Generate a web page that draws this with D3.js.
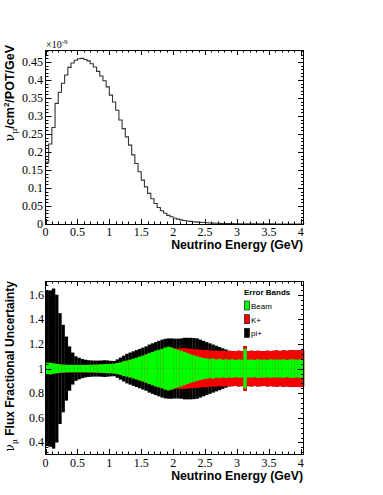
<!DOCTYPE html>
<html>
<head>
<meta charset="utf-8">
<script src="https://cdn.jsdelivr.net/npm/d3@7"></script>
<style>
  body { margin: 0; background: #fff; }
  text { fill: #000; }
</style>
</head>
<body>
<div id="chart"></div>
<script>
// flux per bin (x 1e-9 nu_mu/cm2/POT/GeV), bins of 0.05 GeV starting at 0
var binWidth = 0.05;
var flux = [0.172,0.222,0.268,0.335,0.366,0.391,0.414,0.435,0.447,0.455,
  0.459,0.46,0.457,0.453,0.445,0.436,0.424,0.411,0.398,0.381,
  0.358,0.339,0.316,0.289,0.265,0.242,0.219,0.192,0.168,0.145,
  0.122,0.103,0.085,0.07,0.057,0.046,0.037,0.03,0.024,0.02,
  0.016,0.0135,0.0115,0.0098,0.0084,0.0072,0.0062,0.0053,0.0046,0.004,
  0.0034,0.0029,0.0025,0.0021,0.0018,0.0015,0.0013,0.0011,0.001,0.0009,
  0.0008,0.0007,0.0006,0.0006,0.0005,0.0005,0.0004,0.0004,0.0003,0.0003,
  0.0003,0.0003,0.0002,0.0002,0.0002,0.0002,0.0002,0.0002,0.0001,0.0001,
  0.0001];

// fractional error half widths, cumulative
var errBeam = [0.047,0.047,0.042,0.038,0.034,0.032,0.031,0.03,0.03,0.03,
  0.03,0.03,0.03,0.031,0.031,0.032,0.033,0.034,0.036,0.038,
  0.038,0.04,0.045,0.05,0.06,0.065,0.072,0.08,0.088,0.097,
  0.105,0.115,0.125,0.135,0.145,0.152,0.16,0.17,0.177,0.17,
  0.16,0.152,0.145,0.135,0.125,0.115,0.108,0.1,0.092,0.086,
  0.082,0.078,0.082,0.074,0.078,0.072,0.076,0.072,0.076,0.07,
  0.074,0.072,0.16,0.072,0.074,0.07,0.076,0.072,0.074,0.07,
  0.076,0.072,0.074,0.072,0.076,0.07,0.074,0.076,0.072,0.074,
  0.076];
var errKaon = [0.047,0.047,0.042,0.038,0.034,0.032,0.031,0.03,0.03,0.03,
  0.03,0.03,0.03,0.031,0.031,0.032,0.033,0.034,0.036,0.038,
  0.038,0.04,0.045,0.05,0.06,0.065,0.072,0.08,0.088,0.097,
  0.105,0.115,0.125,0.135,0.145,0.152,0.16,0.17,0.177,0.172,
  0.165,0.162,0.165,0.165,0.163,0.16,0.158,0.156,0.153,0.15,
  0.152,0.148,0.145,0.147,0.143,0.145,0.142,0.145,0.143,0.14,
  0.145,0.143,0.182,0.143,0.145,0.142,0.145,0.143,0.14,0.145,
  0.143,0.145,0.147,0.143,0.148,0.145,0.147,0.15,0.147,0.15,
  0.148];
var errPion = [0.63,0.635,0.65,0.6,0.45,0.355,0.26,0.18,0.13,0.1,
  0.088,0.078,0.072,0.068,0.066,0.065,0.065,0.066,0.068,0.066,
  0.063,0.062,0.075,0.09,0.105,0.12,0.13,0.14,0.15,0.16,
  0.17,0.18,0.195,0.205,0.215,0.225,0.235,0.242,0.245,0.245,
  0.243,0.243,0.245,0.25,0.25,0.25,0.248,0.245,0.235,0.225,
  0.215,0.205,0.195,0.185,0.175,0.165,0.155,0.145,0.143,0.14,
  0.145,0.143,0.182,0.143,0.145,0.142,0.145,0.143,0.14,0.145,
  0.143,0.145,0.147,0.143,0.148,0.145,0.147,0.15,0.147,0.15,
  0.148];

var xTicks = [0, 0.5, 1, 1.5, 2, 2.5, 3, 3.5, 4];
var fluxTicks = [0, 0.05, 0.1, 0.15, 0.2, 0.25, 0.3, 0.35, 0.4, 0.45];
var ratioTicks = [0.4, 0.6, 0.8, 1, 1.2, 1.4, 1.6];
var legendLabels = ["Beam", "K+", "pi+"];
var legendColors = ["#00ff00", "#ff0000", "#000000"];

var width = 383, height = 495;
var svg = d3.select("#chart").append("svg")
    .attr("width", width)
    .attr("height", height);

var serif = "Liberation Serif, Times New Roman, serif";
var sans = "Liberation Sans, Arial, sans-serif";

var x1 = d3.scaleLinear().domain([0, 4.05]).range([45.5, 304]);
var y1 = d3.scaleLinear().domain([0, 0.4833]).range([224, 50]);
var x2 = d3.scaleLinear().domain([0, 4.05]).range([45.5, 304]);
var y2 = d3.scaleLinear().domain([0.3065, 1.711]).range([454, 281]);

// root style frame with inward ticks on all four sides
function frame(x, y, minorStep, yMinorStep, yMajor) {
    var x0 = x.range()[0], xr = x.range()[1];
    var yb = y.range()[0], yt = y.range()[1];
    var g = svg.append("g");
    var xmin = d3.range(0, x.domain()[1] + 1e-9, minorStep);
    xmin.forEach(function(v) {
        var isMajor = Math.abs(v / 0.5 - Math.round(v / 0.5)) < 1e-6;
        var len = isMajor ? 5 : 2.5;
        var px = Math.round(x(v)) + 0.5;
        g.append("line").attr("x1", px).attr("x2", px).attr("y1", yb).attr("y2", yb - len);
        g.append("line").attr("x1", px).attr("x2", px).attr("y1", yt).attr("y2", yt + len);
    });
    var ymin = d3.range(Math.ceil(y.domain()[0] / yMinorStep) * yMinorStep, y.domain()[1], yMinorStep);
    ymin.forEach(function(v) {
        var isMajor = Math.abs(v / yMajor - Math.round(v / yMajor)) < 1e-6;
        var len = isMajor ? 6 : 3;
        var py = Math.round(y(v)) + 0.5;
        g.append("line").attr("x1", x0).attr("x2", x0 + len).attr("y1", py).attr("y2", py);
        g.append("line").attr("x1", xr).attr("x2", xr - len).attr("y1", py).attr("y2", py);
    });
    g.selectAll("line").attr("stroke", "#000").attr("stroke-width", 1);
    svg.append("rect")
        .attr("x", Math.round(x0) - 0.5).attr("y", Math.round(yt) + 0.5)
        .attr("width", Math.round(xr) - Math.round(x0))
        .attr("height", Math.round(yb) - Math.round(yt))
        .attr("fill", "none").attr("stroke", "#000").attr("stroke-width", 1);
}

function xLabels(x, base) {
    svg.append("g").selectAll("text")
        .data(xTicks).enter().append("text")
        .attr("x", function(d) { return x(d); })
        .attr("y", base)
        .attr("text-anchor", "middle")
        .attr("font-family", serif)
        .attr("font-size", 12)
        .text(function(d) { return d; });
}

function yLabels(y, ticks, xr) {
    svg.append("g").selectAll("text")
        .data(ticks).enter().append("text")
        .attr("x", xr)
        .attr("y", function(d) { return y(d) + 4; })
        .attr("text-anchor", "end")
        .attr("font-family", serif)
        .attr("font-size", 12)
        .text(function(d) { return d; });
}

// ---- top: flux histogram
var pathData = [[0, 0]];
flux.forEach(function(v, i) {
    pathData.push([i * binWidth, v]);
    pathData.push([(i + 1) * binWidth, v]);
});
pathData.push([flux.length * binWidth, 0]);

svg.append("path")
    .attr("d", d3.line().x(function(d) { return x1(d[0]); }).y(function(d) { return y1(d[1]); })(pathData))
    .attr("fill", "none")
    .attr("stroke", "#333")
    .attr("stroke-width", 1.1);

frame(x1, y1, 0.1, 0.01, 0.05);
xLabels(x1, 235.5);
yLabels(y1, fluxTicks, 43);

svg.append("text")
    .attr("x", 46).attr("y", 48)
    .attr("font-family", serif).attr("font-size", 10)
    .html('×10<tspan dy="-4" font-size="7">-9</tspan>');

svg.append("text")
    .attr("transform", "translate(14,45) rotate(-90)")
    .attr("text-anchor", "end")
    .attr("font-family", sans).attr("font-size", 12.5).attr("font-weight", "bold")
    .html('<tspan font-weight="normal" font-family="DejaVu Serif, serif">ν</tspan><tspan dy="3" font-size="8" font-weight="normal" font-family="DejaVu Serif, serif">μ</tspan><tspan dy="-3">/cm</tspan><tspan dy="-5" font-size="8">2</tspan><tspan dy="5">/POT/GeV</tspan>');

svg.append("text")
    .attr("x", 303).attr("y", 249)
    .attr("text-anchor", "end")
    .attr("font-family", sans).attr("font-size", 12.3).attr("font-weight", "bold")
    .text("Neutrino Energy (GeV)");

// ---- bottom: error bands
function band(errs, color) {
    svg.append("g").selectAll("rect")
        .data(errs).enter().append("rect")
        .attr("x", function(d, i) { return x2(i * binWidth); })
        .attr("width", x2(binWidth) - x2(0) + 0.2)
        .attr("y", function(d) { return y2(1 + d); })
        .attr("height", function(d) { return y2(1 - d) - y2(1 + d); })
        .attr("fill", color);
}
band(errPion, legendColors[2]);
band(errKaon, legendColors[1]);
band(errBeam, legendColors[0]);

svg.append("line")
    .attr("x1", x2(0)).attr("x2", x2(4.05))
    .attr("y1", y2(1)).attr("y2", y2(1))
    .attr("stroke", "#2a8a2a").attr("stroke-width", 0.6)
    .attr("stroke-dasharray", "1,3");

frame(x2, y2, 0.1, 0.04, 0.2);
xLabels(x2, 466.5);
yLabels(y2, ratioTicks, 44);

svg.append("text")
    .attr("transform", "translate(14,281) rotate(-90)")
    .attr("text-anchor", "end")
    .attr("font-family", sans).attr("font-size", 12).attr("font-weight", "bold")
    .html('<tspan font-weight="normal" font-family="DejaVu Serif, serif">ν</tspan><tspan dy="3" font-size="8" font-weight="normal" font-family="DejaVu Serif, serif">μ</tspan><tspan dy="-3"> Flux Fractional Uncertainty</tspan>');

svg.append("text")
    .attr("x", 303).attr("y", 480)
    .attr("text-anchor", "end")
    .attr("font-family", sans).attr("font-size", 12.3).attr("font-weight", "bold")
    .text("Neutrino Energy (GeV)");

// legend
var legend = svg.append("g");
legend.append("text")
    .attr("x", 244).attr("y", 295)
    .attr("font-family", sans).attr("font-size", 8).attr("font-weight", "bold")
    .text("Error Bands");
legendLabels.forEach(function(lab, i) {
    legend.append("rect")
        .attr("x", 244.5).attr("y", 301 + i * 13.7)
        .attr("width", 5).attr("height", 9)
        .attr("fill", legendColors[i])
        .attr("stroke", "#000").attr("stroke-width", 0.6);
    legend.append("text")
        .attr("x", 251).attr("y", 309 + i * 13.7)
        .attr("font-family", sans).attr("font-size", 8)
        .attr("fill", "#222")
        .text(lab);
});
</script>
</body>
</html>
